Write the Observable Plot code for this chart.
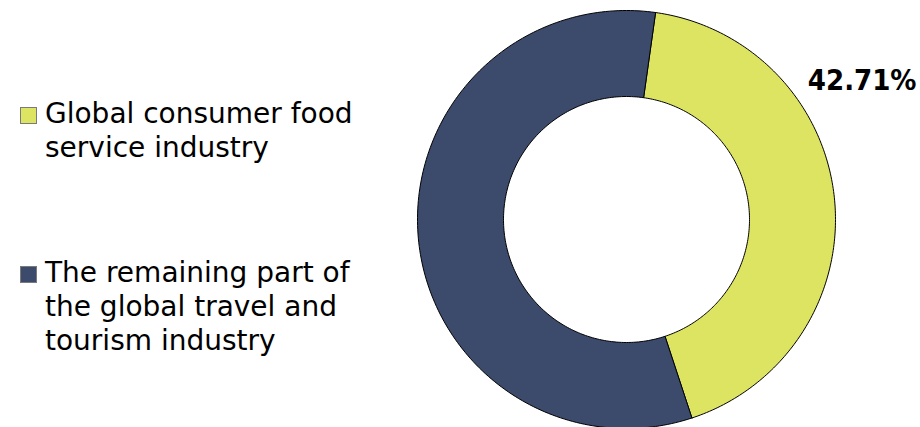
<!DOCTYPE html>
<html>
<head>
<meta charset="utf-8">
<script src="https://cdn.jsdelivr.net/npm/d3@7"></script>
<script src="https://cdn.jsdelivr.net/npm/@observablehq/plot@0.6"></script>
<style>
  html, body { margin: 0; padding: 0; background: #fff; }
  #wrap { position: relative; width: 920px; height: 427px; display: flex; }
  #legend { position: relative; width: 400px; height: 427px; font-family: "DejaVu Sans", sans-serif; font-size: 28px; line-height: 34px; color: #000; }
  .item { position: absolute; left: 20px; }
  .sw { position: absolute; left: 0; width: 15px; height: 15px; border: 1px solid #7a7a7a; }
  .lbl { position: absolute; left: 25px; white-space: pre; }
</style>
</head>
<body>
<div id="wrap">
  <div id="legend"></div>
  <div id="chart"></div>
</div>
<script>
// ---- data ----
const categories = ["Global consumer food service industry", "The remaining part of the global travel and tourism industry"];
const legendLines = [["Global consumer food", "service industry"], ["The remaining part of", "the global travel and", "tourism industry"]];
const values = [42.71, 57.29];
const colors = ["#dde462", "#3c4a6c"];
const labelText = ["42.71%", null];

// ---- layout constants ----
const W = 520, H = 427;
const cx = 226, cy = 219, R = 209, innerRatio = 123 / 209;
const startDeg = 8;

// build ring polygons from values
const total = d3.sum(values);
const rows = [];
let acc = startDeg * Math.PI / 180;
values.forEach((v, i) => {
  const a0 = acc, a1 = acc + (v / total) * 2 * Math.PI;
  acc = a1;
  const N = 180;
  for (let k = 0; k <= N; k++) {
    const t = a0 + (a1 - a0) * k / N;
    rows.push({name: categories[i], x: Math.sin(t), y: Math.cos(t)});
  }
  for (let k = N; k >= 0; k--) {
    const t = a0 + (a1 - a0) * k / N;
    rows.push({name: categories[i], x: innerRatio * Math.sin(t), y: innerRatio * Math.cos(t)});
  }
  rows.push({name: categories[i], x: Math.sin(a0), y: Math.cos(a0)});
});

const plot = Plot.plot({
  width: W,
  height: H,
  margin: 0,
  x: {axis: null, domain: [-cx / R, (W - cx) / R]},
  y: {axis: null, domain: [-(H - cy) / R, cy / R]},
  color: {domain: categories, range: colors},
  style: {background: "transparent", overflow: "visible"},
  marks: [
    Plot.line(rows, {x: "x", y: "y", z: "name", fill: "name", stroke: "#000", strokeWidth: 1, curve: "linear"}),
    Plot.text(labelText.filter(d => d), {
      text: d => d,
      frameAnchor: "top-right",
      textAnchor: "end",
      lineAnchor: "top",
      dx: -4,
      dy: 69,
      fontFamily: "DejaVu Sans Condensed, DejaVu Sans, sans-serif",
      fontWeight: "bold",
      fontSize: 29,
      fill: "#000"
    })
  ]
});
document.getElementById("chart").appendChild(plot);

// legend
const legend = document.getElementById("legend");
const tops = [97, 256];
legendLines.forEach((lines, i) => {
  const item = document.createElement("div");
  item.className = "item";
  item.style.top = tops[i] + "px";
  const sw = document.createElement("div");
  sw.className = "sw";
  sw.style.background = colors[i];
  sw.style.top = "10px";
  const lbl = document.createElement("div");
  lbl.className = "lbl";
  lbl.textContent = lines.join("\n");
  item.appendChild(sw);
  item.appendChild(lbl);
  legend.appendChild(item);
});
</script>
</body>
</html>
